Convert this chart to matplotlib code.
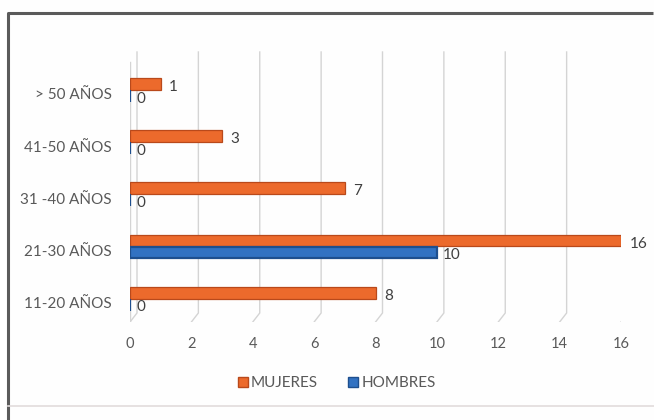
import matplotlib
matplotlib.use("Agg")
import matplotlib.pyplot as plt
from matplotlib.lines import Line2D
from matplotlib.transforms import ScaledTranslation
import numpy as np

categories = ["11-20 AÑOS", "21-30 AÑOS", "31 -40 AÑOS", "41-50 AÑOS", "> 50 AÑOS"]
mujeres = [8, 16, 7, 3, 1]
hombres = [0, 10, 0, 0, 0]
x_ticks = [0, 2, 4, 6, 8, 10, 12, 14, 16]

ORANGE = "#EC6A2C"
ORANGE_EDGE = "#B9491B"
BLUE = "#3272C2"
BLUE_EDGE = "#1E4F8E"
TEXT = "#404040"
LABEL = "#595959"
GRID = "#D4D4D4"

plt.rcParams["font.family"] = ["Lato", "DejaVu Sans"]

W, H = 654, 420
fig = plt.figure(figsize=(W / 100, H / 100), dpi=100)
fig.patch.set_facecolor("#FEFEFE")

# plot area in pixels
x0_px, x1_px = 130, 621
top_px, bot_px = 45, 322
base_px = 298.7          # pixel row of the lowest category
y_unit = 52.2            # pixels per category step
ax = fig.add_axes([x0_px / W, 1 - bot_px / H, (x1_px - x0_px) / W, (bot_px - top_px) / H])
ax.set_facecolor("none")
ax.set_xlim(0, 16)
ax.set_ylim(-(bot_px - base_px) / y_unit, (base_px - top_px) / y_unit)
for s in ax.spines.values():
    s.set_visible(False)

# perspective gridlines (back wall + floor diagonal)
depth = 7 / ((x1_px - x0_px) / 16)
y_top = (base_px - 52) / y_unit
y_back = (base_px - 313) / y_unit
y_front = ax.get_ylim()[0]
for v in x_ticks:
    ax.plot([v + depth, v + depth, v], [y_top, y_back, y_front], color=GRID, lw=1, zorder=1)
ax.plot([0, 0], [(base_px - 62) / y_unit, y_front], color=GRID, lw=1, zorder=1)

ypos = np.arange(len(categories))
bh = 0.225
off = 0.115
ax.barh(ypos + off, mujeres, height=bh, color=ORANGE, edgecolor=ORANGE_EDGE, linewidth=0.9, zorder=3,
        label="MUJERES")
ax.barh(ypos - off, hombres, height=bh, color=BLUE, edgecolor=BLUE_EDGE, linewidth=1.6, zorder=3,
        label="HOMBRES")

# value labels
for y, v in zip(ypos, mujeres):
    ax.text(v + 0.28, y + off - 0.06, f"{v}", ha="left", va="center", fontsize=11, color=TEXT, zorder=4)
for y, v in zip(ypos, hombres):
    ax.text(v + 0.2, y - off - 0.05, f"{v}", ha="left", va="center", fontsize=11, color=TEXT, zorder=4)

ax.set_yticks(ypos)
ax.set_yticklabels(categories, fontsize=11, color=LABEL)
ax.set_xticks(x_ticks)
ax.set_xticklabels([str(t) for t in x_ticks], fontsize=10.5, color=LABEL)
ax.tick_params(axis="y", length=0, pad=13)
ax.tick_params(axis="x", length=0, pad=11)
shift = ScaledTranslation(0, -4 / 100, fig.dpi_scale_trans)
for lab in ax.get_yticklabels():
    lab.set_transform(lab.get_transform() + shift)

# legend
handles = [Line2D([], [], marker="s", ls="none", markersize=6.5, markerfacecolor=ORANGE,
                  markeredgecolor=ORANGE_EDGE),
           Line2D([], [], marker="s", ls="none", markersize=6.5, markerfacecolor=BLUE,
                  markeredgecolor=BLUE_EDGE)]
fig.legend(handles, ["MUJERES", "HOMBRES"], loc="center", bbox_to_anchor=(337 / W, 1 - 383 / H),
           ncol=2, frameon=False, fontsize=11, labelcolor=LABEL, handlelength=0.6,
           handletextpad=0.25, columnspacing=2.0)

# chart frame
frame = fig.add_axes([0, 0, 1, 1], zorder=-1)
frame.set_xlim(0, W)
frame.set_ylim(H, 0)
frame.axis("off")
frame.plot([8, 8, 653], [H, 13, 13], color="#5A5A5A", lw=2.2, solid_capstyle="butt")
frame.plot([8, W], [406, 406], color="#E2DCDC", lw=1.2)

fig.savefig("out.png", dpi=100, facecolor=fig.get_facecolor())
